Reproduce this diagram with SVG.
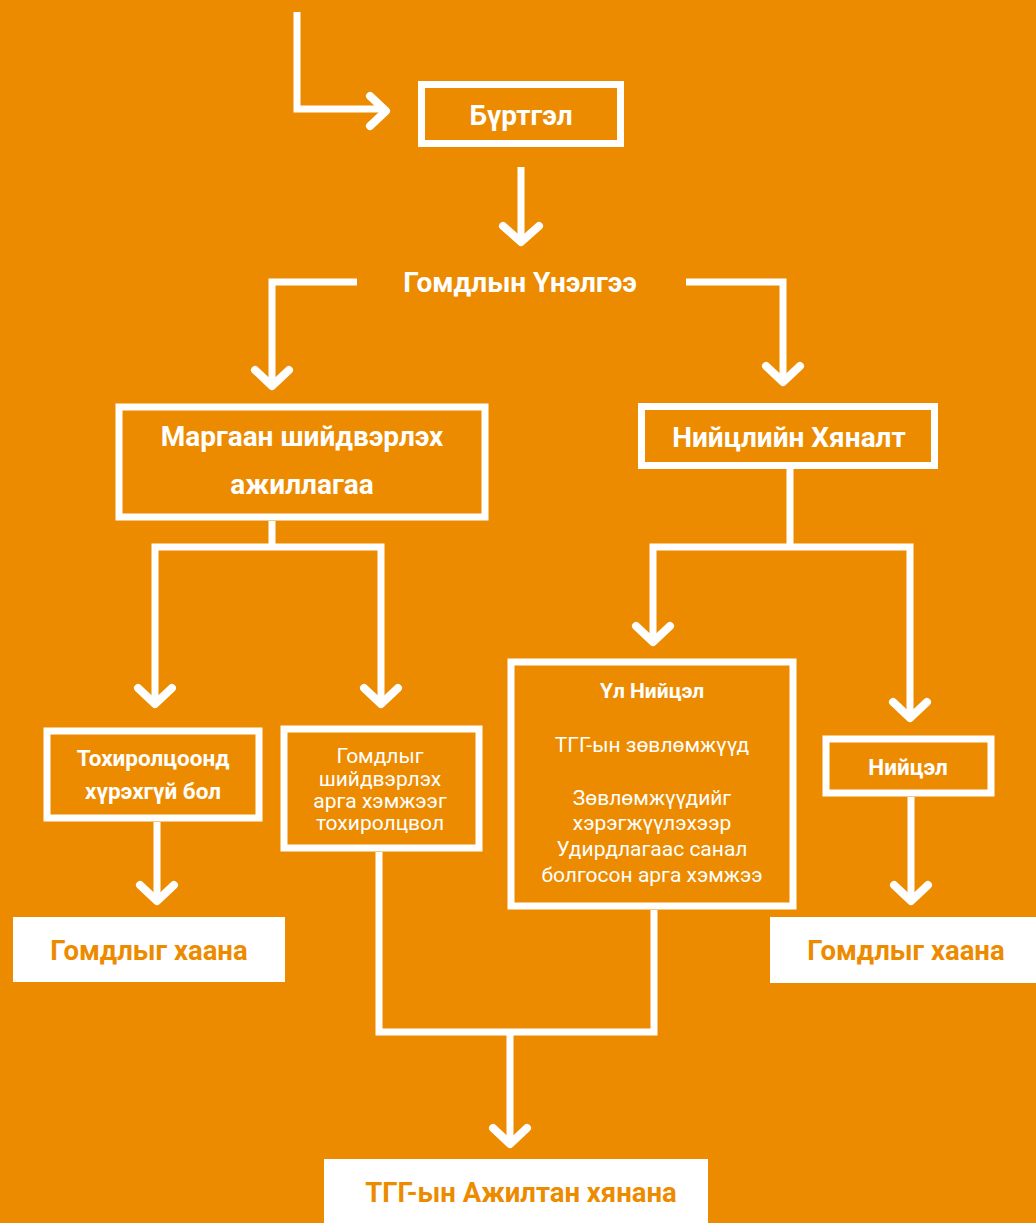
<svg xmlns="http://www.w3.org/2000/svg" width="1036" height="1223" viewBox="0 0 1036 1223">
<style>
.bg{fill:#ED8B00}
.box{fill:none;stroke:#fff;stroke-width:7}
.wbox{fill:#fff}
.ln{fill:none;stroke:#fff;stroke-width:7;stroke-linejoin:miter}
.ah{fill:none;stroke:#fff;stroke-width:8;stroke-linecap:round;stroke-linejoin:round}
.tb{font-family:Roboto,"Liberation Sans",sans-serif;font-weight:bold;fill:#fff;text-anchor:middle}
.tr{font-family:Roboto,"Liberation Sans",sans-serif;font-weight:normal;fill:#fff;text-anchor:middle;font-size:21px}
.to{font-family:Roboto,"Liberation Sans",sans-serif;font-weight:bold;fill:#ED8B00;text-anchor:middle;font-size:27.5px}
</style>
<rect class="bg" x="0" y="0" width="1036" height="1223"/>
<g id="connectors">
  <path class="ln" d="M297 12 V109 H385"/>
  <path class="ah" d="M370 96 L386 111 L370 126"/>
  <path class="ln" d="M521 167 V240"/>
  <path class="ah" d="M503 226 L521 242 L539 226"/>
  <path class="ln" d="M357 282 H272 V385"/>
  <path class="ah" d="M255 370 L272 386 L289 370"/>
  <path class="ln" d="M686 282 H783 V380"/>
  <path class="ah" d="M766 366 L783 382 L800 366"/>
  <path class="ln" d="M272 521 V547 M155 702 V547 H381 V702"/>
  <path class="ah" d="M138 688 L155 704 L172 688"/>
  <path class="ah" d="M364 688 L381 704 L398 688"/>
  <path class="ln" d="M790 469 V547 M653 640 V547 H910 V716"/>
  <path class="ah" d="M636 626 L653 642 L670 626"/>
  <path class="ah" d="M893 702 L910 718 L927 702"/>
  <path class="ln" d="M157 822 V899"/>
  <path class="ah" d="M140 885 L157 901 L174 885"/>
  <path class="ln" d="M911 797 V899"/>
  <path class="ah" d="M894 885 L911 901 L928 885"/>
  <path class="ln" d="M379 852 V1032 H654 V910 M510 1032 V1142"/>
  <path class="ah" d="M493 1128 L510 1144 L527 1128"/>
</g>
<g id="n-burtgel">
  <rect class="box" x="421.5" y="84.5" width="199" height="59"/>
  <text class="tb" x="521" y="125" font-size="28">Бүртгэл</text>
</g>
<g id="n-unelgee">
  <text class="tb" x="520" y="292" font-size="28">Гомдлын Үнэлгээ</text>
</g>
<g id="n-margaan">
  <rect class="box" x="119" y="407" width="366" height="110"/>
  <text class="tb" x="302" y="446" font-size="28">Маргаан шийдвэрлэх</text>
  <text class="tb" x="302" y="494" font-size="28">ажиллагаа</text>
</g>
<g id="n-niitsliin">
  <rect class="box" x="641.5" y="406.5" width="293" height="59"/>
  <text class="tb" x="789" y="447" font-size="28">Нийцлийн Хяналт</text>
</g>
<g id="n-tokhirol">
  <rect class="box" x="47" y="731" width="212" height="87"/>
  <text class="tb" x="153" y="766" font-size="22.5">Тохиролцоонд</text>
  <text class="tb" x="153" y="799" font-size="22.5">хүрэхгүй бол</text>
</g>
<g id="n-shiidverlekh">
  <rect class="box" x="284" y="729" width="195" height="119"/>
  <text class="tr" x="380" y="763">Гомдлыг</text>
  <text class="tr" x="380" y="786">шийдвэрлэх</text>
  <text class="tr" x="380" y="808">арга хэмжээг</text>
  <text class="tr" x="380" y="830">тохиролцвол</text>
</g>
<g id="n-ulniitsel">
  <rect class="box" x="511" y="662" width="282" height="244"/>
  <text class="tb" x="652" y="698" font-size="21">Үл Нийцэл</text>
  <text class="tr" x="652" y="752">ТГГ-ын зөвлөмжүүд</text>
  <text class="tr" x="652" y="805">Зөвлөмжүүдийг</text>
  <text class="tr" x="652" y="830">хэрэгжүүлэхээр</text>
  <text class="tr" x="652" y="856">Удирдлагаас санал</text>
  <text class="tr" x="652" y="882">болгосон арга хэмжээ</text>
</g>
<g id="n-niitsel">
  <rect class="box" x="826" y="739" width="165" height="54"/>
  <text class="tb" x="908" y="775" font-size="22.5">Нийцэл</text>
</g>
<g id="n-khaana-left">
  <rect class="wbox" x="13" y="917" width="272" height="65"/>
  <text class="to" x="149" y="960">Гомдлыг хаана</text>
</g>
<g id="n-khaana-right">
  <rect class="wbox" x="770" y="917" width="266" height="66"/>
  <text class="to" x="906" y="960">Гомдлыг хаана</text>
</g>
<g id="n-ajiltan">
  <rect class="wbox" x="324" y="1159" width="384" height="64"/>
  <text class="to" x="521" y="1202">ТГГ-ын Ажилтан хянана</text>
</g>
</svg>
